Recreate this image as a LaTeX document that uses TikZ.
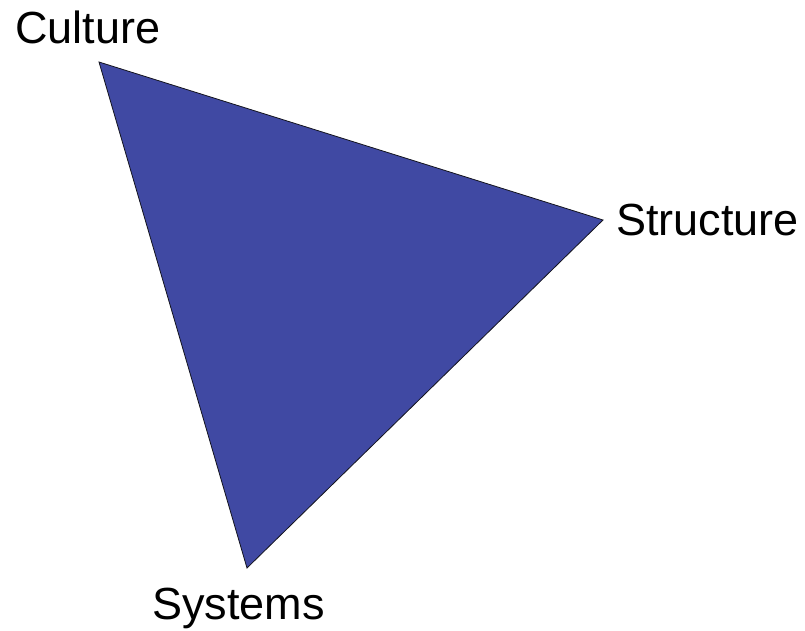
\documentclass[tikz,border=0pt]{standalone}
\usepackage{fontspec}
\setmainfont{Liberation Sans}
\usepackage{tikz}
\usetikzlibrary{positioning,calc}
\usepackage{xcolor}
\definecolor{triblue}{RGB}{64,73,163}
\definecolor{tridark}{RGB}{20,20,30}

\begin{document}
\begin{tikzpicture}[x=1pt,y=-1pt,
  corner/.style={font=\fontsize{45}{52}\selectfont, text=black, inner sep=0pt, anchor=base west}]
\useasboundingbox (0,0) rectangle (805,630);
% vertices of the triangle
\coordinate (cul) at (99,62);
\coordinate (str) at (603,220);
\coordinate (sys) at (247,568);
\filldraw[fill=triblue, draw=tridark, line width=0.8pt, line join=miter] (cul) -- (str) -- (sys) -- cycle;
% labels
\node[corner] (culture) at (15,43) {Culture};
\node[corner] (structure) at (616,235) {Structure};
\node[corner] (systems) at (152,619) {Systems};
\end{tikzpicture}
\end{document}
